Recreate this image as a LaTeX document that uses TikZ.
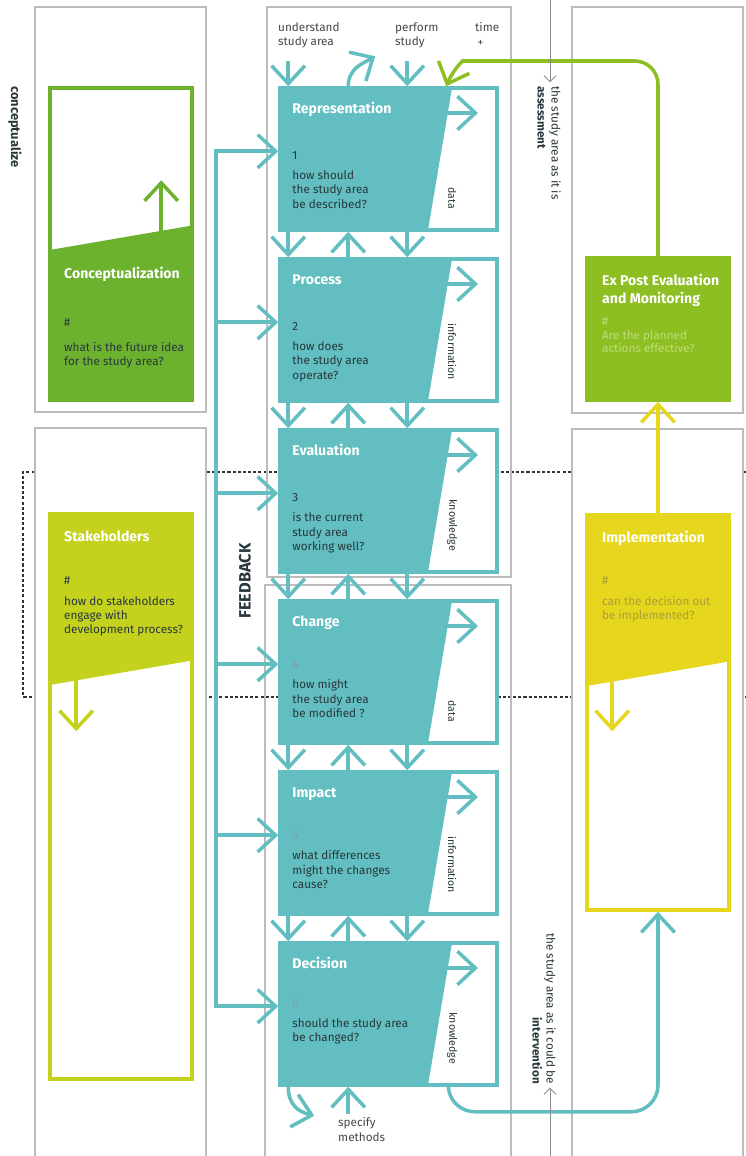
\documentclass[tikz,border=0pt]{standalone}
\usepackage{fontspec}
\setmainfont{Fira Sans}
\usetikzlibrary{calc,arrows.meta}

\definecolor{stepteal}{RGB}{98,190,192}
\definecolor{ideagreen}{RGB}{108,178,46}
\definecolor{postgreen}{RGB}{141,190,34}
\definecolor{stakelime}{RGB}{196,210,30}
\definecolor{implyellow}{RGB}{231,214,30}
\definecolor{inkdark}{RGB}{40,55,60}
\definecolor{cuegray}{RGB}{70,70,70}
\definecolor{framegray}{RGB}{188,188,188}
\definecolor{numfade}{RGB}{128,160,165}
\definecolor{postfade}{RGB}{192,222,120}
\definecolor{implfade}{RGB}{170,158,56}

\begin{document}
\begin{tikzpicture}[x=0.3mm,y=-0.3mm,
    grayframe/.style={draw=framegray,line width=1pt},
    flow/.style={line width=3pt,-{Straight Barb[length=5.4mm,width=10mm]}},
    twoway/.style={line width=3pt,{Straight Barb[length=5.4mm,width=10mm]}-{Straight Barb[length=5.4mm,width=10mm]}},
    grayarrow/.style={draw=black!45,line width=0.8pt,shorten >=3pt,-{Straight Barb[length=1.8mm,width=3.6mm]}},
    stepbox/.style={draw=stepteal,line width=3pt,fill=white,inner sep=0pt,
      minimum width=65.1mm,minimum height=42.6mm,
      path picture={
        \fill[stepteal] (path picture bounding box.north west) -- ++(172,0) -- ++(-24,142) -- ++(-148,0) -- cycle;
        \draw[flow,stepteal] ($(path picture bounding box.north west)+(160,25)$) -- ++(38,0);}},
    sidebox/.style={line width=3pt,inner sep=0pt,minimum width=42.6mm},
    steptitle/.style={text=white,font=\bfseries\fontsize{12}{15}\selectfont,anchor=base west,inner sep=0pt},
    ntext/.style={text=inkdark,font=\fontsize{10}{12}\selectfont,anchor=base west,inner sep=0pt},
    qtext/.style={text=inkdark,font=\fontsize{10}{12.4}\selectfont,align=left,anchor=north west,inner sep=0pt},
    kind/.style={rotate=-90,text=inkdark,font=\fontsize{9}{11}\selectfont,anchor=east,inner sep=0pt},
    cue/.style={text=cuegray,font=\fontsize{10}{12.75}\selectfont,align=left,anchor=north west,inner sep=0pt}]

\useasboundingbox (0,0) rectangle (746,1156);
\clip (0,0) rectangle (746,1156);

\draw[black!80,line width=1.1pt,dash pattern=on 2.6pt off 1.8pt] (746,472) -| (23,697) -- (746,697);

\draw[grayframe,fill=white] (35,7) rectangle (206,412);
\draw[grayframe,fill=white] (35,428) rectangle (206,1170);
\draw[grayframe,fill=white] (572,7) rectangle (743,413);
\draw[grayframe,fill=white] (572,429) rectangle (743,1170);
\draw[grayframe] (267,7) rectangle (511,577);
\draw[grayframe] (265,585) rectangle (511,1170);

\node[rotate=-90,text=inkdark,font=\bfseries\fontsize{11}{13}\selectfont] (concl) at (15,127) {conceptualize};
\node[rotate=90,text=inkdark,font=\bfseries\fontsize{14}{16}\selectfont] (fb) at (245,581) {FEEDBACK};

\node[stepbox] (s1) at (388.5,159) {};
\node[stepbox] (s2) at (388.5,330) {};
\node[stepbox] (s3) at (388.5,501) {};
\node[stepbox] (s4) at (388.5,672) {};
\node[stepbox] (s5) at (388.5,843) {};
\node[stepbox] (s6) at (388.5,1014) {};

\node[steptitle] (t1) at ($(s1.north west)+(14,27)$) {Representation};
\node[ntext] (n1) at ($(s1.north west)+(14,73)$) {1};
\node[qtext] (q1) at ($(s1.north west)+(14,84)$) {how should\\the study area\\be described?};
\node[kind] (k1) at ($(s1.north west)+(174,123)$) {data};

\node[steptitle] (t2) at ($(s2.north west)+(14,27)$) {Process};
\node[ntext] (n2) at ($(s2.north west)+(14,73)$) {2};
\node[qtext] (q2) at ($(s2.north west)+(14,84)$) {how does\\the study area\\operate?};
\node[kind] (k2) at ($(s2.north west)+(174,123)$) {information};

\node[steptitle] (t3) at ($(s3.north west)+(14,27)$) {Evaluation};
\node[ntext] (n3) at ($(s3.north west)+(14,73)$) {3};
\node[qtext] (q3) at ($(s3.north west)+(14,84)$) {is the current\\study area\\working well?};
\node[kind] (k3) at ($(s3.north west)+(174,123)$) {knowledge};

\node[steptitle] (t4) at ($(s4.north west)+(14,27)$) {Change};
\node[ntext,text=numfade] (n4) at ($(s4.north west)+(14,69)$) {4};
\node[qtext] (q4) at ($(s4.north west)+(14,80)$) {how might\\the study area\\be modified ?};
\node[kind] (k4) at ($(s4.north west)+(174,123)$) {data};

\node[steptitle] (t5) at ($(s5.north west)+(14,27)$) {Impact};
\node[ntext,text=numfade] (n5) at ($(s5.north west)+(14,69)$) {5};
\node[qtext] (q5) at ($(s5.north west)+(14,80)$) {what differences\\might the changes\\cause?};
\node[kind] (k5) at ($(s5.north west)+(174,123)$) {information};

\node[steptitle] (t6) at ($(s6.north west)+(14,27)$) {Decision};
\node[ntext,text=numfade] (n6) at ($(s6.north west)+(14,66)$) {6};
\node[qtext] (q6) at ($(s6.north west)+(14,77)$) {should the study area\\be changed?};
\node[kind] (k6) at ($(s6.north west)+(174,123)$) {knowledge};

\node[cue] (und) at (278,22) {understand\\study area};
\node[cue] (perf) at (395,22) {perform\\study};
\node[cue] (time) at (475,22) {time\\\hspace{2pt}+};
\draw[flow,stepteal] ($(s1.north west)+(10,-25)$) -- ($(s1.north west)+(10,0)$);
\draw[flow,stepteal] ($(s1.north west)+(70,0)$) .. controls ($(s1.north west)+(70,-18)$) and ($(s1.north west)+(85,-23)$) .. ($(s1.north west)+(97,-30)$);
\draw[flow,stepteal] ($(s1.north west)+(129,-25)$) -- ($(s1.north west)+(129,0)$);

\draw[flow,stepteal] ($(s1.south west)+(10,0)$) -- ($(s2.north west)+(10,0)$);
\draw[flow,stepteal] ($(s2.north west)+(70,0)$) -- ($(s1.south west)+(70,0)$);
\draw[flow,stepteal] ($(s1.south west)+(129,0)$) -- ($(s2.north west)+(129,0)$);
\draw[flow,stepteal] ($(s2.south west)+(10,0)$) -- ($(s3.north west)+(10,0)$);
\draw[flow,stepteal] ($(s3.north west)+(70,0)$) -- ($(s2.south west)+(70,0)$);
\draw[flow,stepteal] ($(s2.south west)+(129,0)$) -- ($(s3.north west)+(129,0)$);
\draw[flow,stepteal] ($(s3.south west)+(10,0)$) -- ($(s4.north west)+(10,0)$);
\draw[flow,stepteal] ($(s4.north west)+(70,0)$) -- ($(s3.south west)+(70,0)$);
\draw[flow,stepteal] ($(s3.south west)+(129,0)$) -- ($(s4.north west)+(129,0)$);
\draw[flow,stepteal] ($(s4.south west)+(10,0)$) -- ($(s5.north west)+(10,0)$);
\draw[flow,stepteal] ($(s5.north west)+(70,0)$) -- ($(s4.south west)+(70,0)$);
\draw[flow,stepteal] ($(s4.south west)+(129,0)$) -- ($(s5.north west)+(129,0)$);
\draw[flow,stepteal] ($(s5.south west)+(10,0)$) -- ($(s6.north west)+(10,0)$);
\draw[flow,stepteal] ($(s6.north west)+(70,0)$) -- ($(s5.south west)+(70,0)$);
\draw[flow,stepteal] ($(s5.south west)+(129,0)$) -- ($(s6.north west)+(129,0)$);

\node[cue] (spec) at (338,1117) {specify\\methods};
\draw[flow,stepteal] ($(s6.south west)+(10,0)$) .. controls ($(s6.south west)+(10,18)$) and ($(s6.south west)+(20,25)$) .. ($(s6.south west)+(36,29)$);
\draw[flow,stepteal] ($(s6.south west)+(70,27)$) -- ($(s6.south west)+(70,0)$);

\draw[twoway,stepteal] ($(s1.north west)+(0,65)$) -| ($(s6.north west)+(-62,65)$) -- ($(s6.north west)+(0,65)$);
\draw[flow,stepteal] ($(s2.north west)+(-62,65)$) -- ($(s2.north west)+(0,65)$);
\draw[flow,stepteal] ($(s3.north west)+(-62,65)$) -- ($(s3.north west)+(0,65)$);
\draw[flow,stepteal] ($(s4.north west)+(-62,65)$) -- ($(s4.north west)+(0,65)$);
\draw[flow,stepteal] ($(s5.north west)+(-62,65)$) -- ($(s5.north west)+(0,65)$);

\node[sidebox,draw=ideagreen,fill=white,minimum height=93.6mm] (idea) at (121,244) {};
\fill[ideagreen] ($(idea.north west)+(0,164)$) -- ($(idea.north east)+(0,139)$) -- (idea.south east) -- (idea.south west) -- cycle;
\draw[flow,ideagreen] ($(idea.north west)+(113,148)$) -- ($(idea.north west)+(113,94)$);
\node[steptitle] (ideat) at (64,278) {Conceptualization};
\node[ntext] (idean) at (64,326) {\#};
\node[qtext] (ideaq) at (64,342) {what is the future idea\\for the study area?};

\node[sidebox,draw=stakelime,fill=white,minimum height=169.5mm] (stake) at (121,796.5) {};
\fill[stakelime] (stake.north west) -- (stake.north east) -- ($(stake.north east)+(0,148)$) -- ($(stake.north west)+(0,173)$) -- cycle;
\draw[flow,stakelime] ($(stake.north west)+(28,166)$) -- ($(stake.north west)+(28,219)$);
\node[steptitle] (staket) at (64,541) {Stakeholders};
\node[ntext] (staken) at (64,584) {\#};
\node[qtext,font=\fontsize{10}{12}\selectfont] (stakeq) at (64,596) {how do stakeholders\\engage with\\development process?};

\node[sidebox,draw=postgreen,fill=postgreen,minimum height=42.6mm] (post) at (658,329) {};
\node[steptitle,align=left,anchor=north west,font=\bfseries\fontsize{12}{15.3}\selectfont] (postt) at (602,274) {Ex Post Evaluation\\and Monitoring};
\node[ntext,text=postfade] (postn) at (602,325) {\#};
\node[qtext,text=postfade,font=\fontsize{10}{11.5}\selectfont] (postq) at (602,330) {Are the planned\\actions effective?};

\node[sidebox,draw=implyellow,fill=white,minimum height=118.5mm] (impl) at (658,712.5) {};
\fill[implyellow] (impl.north west) -- (impl.north east) -- ($(impl.north east)+(0,148)$) -- ($(impl.north west)+(0,173)$) -- cycle;
\draw[flow,implyellow] ($(impl.north west)+(27,166)$) -- ($(impl.north west)+(27,218)$);
\node[steptitle] (implt) at (602,542) {Implementation};
\node[ntext,text=implfade] (impln) at (602,584) {\#};
\node[qtext,text=implfade] (implq) at (602,596) {can the decision out\\be implemented?};

\draw[flow,implyellow] (impl.north) -- (post.south);
\draw[flow,postgreen,rounded corners=7mm] (post.north) |- (486,61) .. controls (462,61) and (452,72) .. ($(s1.north west)+(168,0)$);
\draw[flow,stepteal,rounded corners=8mm] ($(s6.south west)+(170,0)$) |- ($(impl.south)+(0,200)$) -- (impl.south);

\node[rotate=-90,anchor=north west,align=left,text=inkdark,font=\fontsize{10}{12}\selectfont,inner sep=0pt] (asis) at (561,86) {the study area as it is\\\textbf{assessment}};
\coordinate (astop) at (550,0);
\draw[grayarrow] (astop) -- (astop |- asis.west);

\node[rotate=-90,anchor=north east,align=right,text=inkdark,font=\fontsize{10}{12}\selectfont,inner sep=0pt] (could) at (556,1084) {the study area as it could be\\\textbf{intervention}};
\coordinate (intbot) at (550,1160);
\draw[grayarrow] (intbot) -- (intbot |- could.east);
\end{tikzpicture}
\end{document}
